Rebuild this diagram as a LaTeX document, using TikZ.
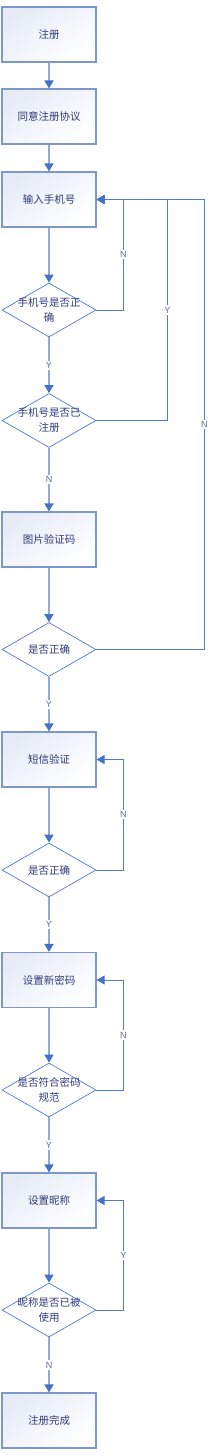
\documentclass[tikz,border=0pt]{standalone}
\usepackage{fontspec}
\setmainfont{Liberation Sans}
\newfontfamily\cjk{Noto Sans CJK SC}
\usepackage{xcolor}
\usepackage{tikz}
\usetikzlibrary{arrows.meta, shapes.geometric}

\definecolor{boxedge}{HTML}{7D96CE}
\definecolor{boxtint}{HTML}{E6EBF6}
\definecolor{flowblue}{HTML}{8FAADC}
\definecolor{tipblue}{HTML}{4472C4}
\definecolor{loopblue}{HTML}{4F7BCB}
\definecolor{txtblue}{HTML}{303C78}
\definecolor{lblblue}{HTML}{5A6AA6}

\begin{document}
\begin{tikzpicture}[
  x=1pt, y=-1pt,
  every node/.style={font=\cjk\fontsize{10.5}{15}\selectfont, text=txtblue},
  stepbox/.style={rectangle, draw=boxedge, line width=1.1pt,
    top color=boxtint, bottom color=white, shading angle=35,
    minimum width=94pt, minimum height=55pt, inner sep=0pt, align=center},
  decision/.style={diamond, draw=loopblue, line width=0.7pt, fill=white,
    minimum width=94pt, minimum height=54pt, inner sep=0pt},
  dtext/.style={align=center, inner sep=0pt},
  yn/.style={font=\fontsize{9}{10}\selectfont, text=lblblue, fill=white,
    inner sep=1.5pt},
  flowarrow/.style={draw=flowblue, line width=1.6pt,
    -{Triangle[color=tipblue, width=9pt, length=8pt]}},
  looparrow/.style={draw=loopblue, line width=1pt,
    -{Triangle[color=tipblue, width=9pt, length=8pt]}}
]
  \useasboundingbox (0,0) rectangle (214,1455);

  % Registration and phone number steps
  \node[stepbox] (reg) at (49,34.5) {注册};
  \node[stepbox] (agree) at (49,116.5) {同意注册协议};
  \node[stepbox] (phone) at (49,199.5) {输入手机号};
  \node[decision, label={[dtext]center:手机号是否正\\确}] (chkfmt) at (49,310) {};
  \node[decision, label={[dtext]center:手机号是否已\\注册}] (chkreg) at (49,420.5) {};

  % Captcha and SMS
  \node[stepbox] (captcha) at (49,539.5) {图片验证码};
  \node[decision, label={[dtext]center:是否正确}] (chkcap) at (49,649.5) {};
  \node[stepbox] (sms) at (49,759.5) {短信验证};
  \node[decision, label={[dtext]center:是否正确}] (chksms) at (49,870) {};

  % Password and nickname
  \node[stepbox] (pwd) at (49,980) {设置新密码};
  \node[decision, label={[dtext]center:是否符合密码\\规范}] (chkpwd) at (49,1090) {};
  \node[stepbox] (nick) at (49,1200.5) {设置昵称};
  \node[decision, label={[dtext]center:昵称是否已被\\使用}] (chknick) at (49,1310) {};
  \node[stepbox] (done) at (49,1420.5) {注册完成};

  % Main flow
  \draw[flowarrow] (reg) -- (agree);
  \draw[flowarrow] (agree) -- (phone);
  \draw[flowarrow] (phone) -- (chkfmt);
  \draw[flowarrow] (chkfmt) -- node[yn] {Y} (chkreg);
  \draw[flowarrow] (chkreg) -- node[yn] {N} (captcha);
  \draw[flowarrow] (captcha) -- (chkcap);
  \draw[flowarrow] (chkcap) -- node[yn] {Y} (sms);
  \draw[flowarrow] (sms) -- (chksms);
  \draw[flowarrow] (chksms) -- node[yn] {Y} (pwd);
  \draw[flowarrow] (pwd) -- (chkpwd);
  \draw[flowarrow] (chkpwd) -- node[yn] {Y} (nick);
  \draw[flowarrow] (nick) -- (chknick);
  \draw[flowarrow] (chknick) -- node[yn] {N} (done);

  % Loops back
  \draw[looparrow] (chkfmt.east) -- ++(27,0) |- node[yn, pos=0.25] {N} (phone.east);
  \draw[looparrow] (chkreg.east) -- ++(71,0) |- node[yn, pos=0.25] {Y} (phone.east);
  \draw[looparrow] (chkcap.east) -- ++(108,0) |- node[yn, pos=0.25] {N} (phone.east);
  \draw[looparrow] (chksms.east) -- ++(27,0) |- node[yn, pos=0.25] {N} (sms.east);
  \draw[looparrow] (chkpwd.east) -- ++(27,0) |- node[yn, pos=0.25] {N} (pwd.east);
  \draw[looparrow] (chknick.east) -- ++(27,0) |- node[yn, pos=0.25] {Y} (nick.east);
\end{tikzpicture}
\end{document}
